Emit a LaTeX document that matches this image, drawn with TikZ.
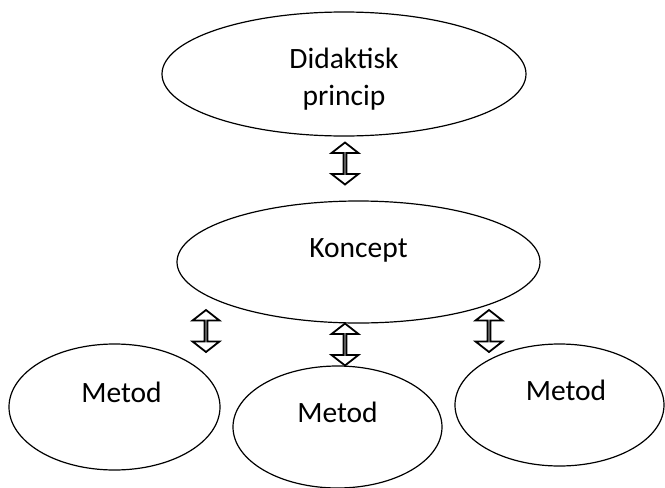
\documentclass[tikz,border=0pt]{standalone}
\usepackage{fontspec}
\setmainfont{Carlito}
\usepackage{tikz}
\usetikzlibrary{shapes,arrows}
\tikzstyle{oval} = [ellipse, draw, line width=1.2pt, inner sep=0pt, text centered, font=\fontsize{29.5}{37}\selectfont, text height=20pt, text depth=30pt]
\tikzstyle{dubbel} = [double arrow, draw, line width=1.8pt, rotate=90, inner sep=0pt, minimum width=27pt, minimum height=42pt, double arrow head extend=8pt, double arrow tip angle=104]

\begin{document}
\begin{tikzpicture}[x=1pt,y=-1pt]
\useasboundingbox (0,0) rectangle (665,488);
\node [oval, minimum width=364pt, minimum height=124pt, align=center, text height=72pt, text depth=10pt] (didaktisk) at (344,74) {Didaktisk\\princip};
\node [oval, minimum width=363pt, minimum height=122pt] (koncept) at (358.5,262) {Koncept};
\node [oval, minimum width=211pt, minimum height=126pt] (metodA) at (114.5,407) {\hspace{14pt}Metod};
\node [oval, minimum width=209pt, minimum height=122pt] (metodB) at (337.5,427) {Metod\hspace{14pt}};
\node [oval, minimum width=209pt, minimum height=122pt] (metodC) at (559.5,405) {\hspace{13pt}Metod};
\node [dubbel] (pilTop) at (345,163.5) {};
\node [dubbel] (pilA) at (206,331) {};
\node [dubbel] (pilB) at (345,344.5) {};
\node [dubbel] (pilC) at (489,331) {};
\end{tikzpicture}
\end{document}
